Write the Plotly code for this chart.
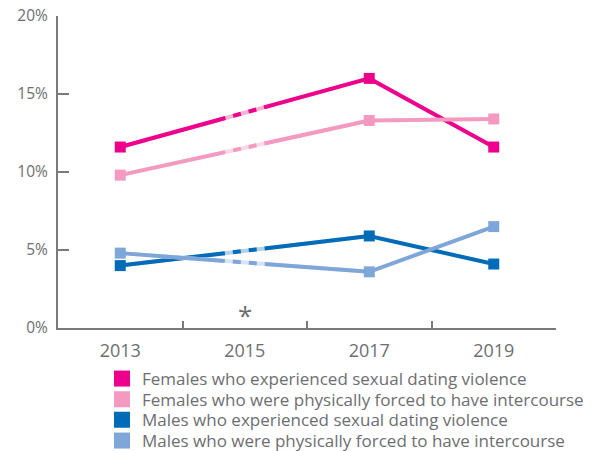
import math
import plotly.graph_objects as go

years = ["2013", "2015", "2017", "2019"]
series_names = [
    "Females who experienced sexual dating violence",
    "Females who were physically forced to have intercourse",
    "Males who experienced sexual dating violence",
    "Males who were physically forced to have intercourse",
]
female_sdv = [11.6, None, 16.0, 11.6]
female_forced = [9.8, None, 13.3, 13.4]
male_sdv = [4.0, None, 5.9, 4.1]
male_forced = [4.8, None, 3.6, 6.5]
y_ticks = [0, 5, 10, 15, 20]
y_ticktext = ["0%", "5%", "10%", "15%", "20%"]
note_year = "2015"
note_text = "*"

colors = ["#ec008c", "#f49ac1", "#006bb6", "#7ea6d8"]
light_colors = ["#f7b3d4", "#fbd9e8", "#b3d0ea", "#d6e3f3"]
all_values = [female_sdv, female_forced, male_sdv, male_forced]

# figure geometry (body margin removed via post_script)
W, H = 593, 451
M = dict(l=58, r=37, t=16, b=123, autoexpand=False)
plot_w = W - M["l"] - M["r"]
plot_h = H - M["t"] - M["b"]
px_per_cat = plot_w / 4
px_per_unit = plot_h / 20

FONT = "Open Sans"
gray = "#6d6e71"
axis_gray = "#7a7a7a"

fig = go.Figure()

for name, vals, c, lc in zip(series_names, all_values, colors, light_colors):
    # light underlay visible through the break around 2015
    fig.add_trace(go.Scatter(
        x=[years[0], years[2]], y=[vals[0], vals[2]], mode="lines",
        line=dict(color=lc, width=4), showlegend=False, hoverinfo="skip"))
    dx = 2 * px_per_cat
    dy = (vals[2] - vals[0]) * px_per_unit
    L = math.hypot(dx, dy)
    a = L / 2 - 20
    dash = f"{a:.1f}px,8px,8px,8px,8px,8px,2000px"
    fig.add_trace(go.Scatter(
        x=years, y=vals, mode="lines+markers", connectgaps=True,
        line=dict(color=c, width=4, dash=dash),
        marker=dict(symbol="square", size=11, color=c),
        showlegend=False, name=name))

legend_ids = ["legend", "legend2", "legend3", "legend4"]
row_px = [379, 399.7, 420.3, 441]  # legend row centres in figure px
for name, c, lid in zip(series_names, colors, legend_ids):
    fig.add_trace(go.Scatter(
        x=[None], y=[None], mode="markers",
        marker=dict(symbol="square", size=16, color=c),
        name=name, showlegend=True, legend=lid))

legend_x = (102 - M["l"]) / plot_w
for lid, ry in zip(legend_ids, row_px):
    fig.update_layout({lid: dict(
        x=legend_x, xanchor="left",
        y=-(ry - (H - M["b"])) / plot_h, yanchor="middle",
        font=dict(size=17, color=gray, family=FONT),
        itemsizing="trace", bgcolor="rgba(0,0,0,0)")})

fig.add_annotation(x=years.index(note_year), y=0, text=note_text,
                   showarrow=False, yanchor="bottom", yshift=-7,
                   font=dict(size=26, color=gray, family=FONT))

fig.update_layout(
    width=W, height=H,
    margin=M,
    plot_bgcolor="white", paper_bgcolor="white",
    font=dict(family=FONT, color=gray),
    xaxis=dict(type="category", categoryorder="array", categoryarray=years,
               range=[-0.5, 3.5], showline=True, linecolor=axis_gray,
               linewidth=2, ticks="inside", tickson="boundaries",
               ticklen=7, tickwidth=2, tickcolor=axis_gray,
               showgrid=False, zeroline=False,
               tickfont=dict(size=18, color=gray, family=FONT),
               ticklabelstandoff=5),
    yaxis=dict(range=[0, 20], tickvals=y_ticks, ticktext=y_ticktext,
               showline=True, linecolor=axis_gray, linewidth=2,
               ticks="inside", ticklen=11, tickwidth=2, tickcolor=axis_gray,
               showgrid=False, zeroline=False, ticklabeloverflow="allow",
               tickfont=dict(size=15.5, color=gray, family=FONT),
               ticklabelstandoff=5),
)

fig.write_html("out.html",
               config={"displayModeBar": False},
               post_script="document.body.style.margin='0';")
